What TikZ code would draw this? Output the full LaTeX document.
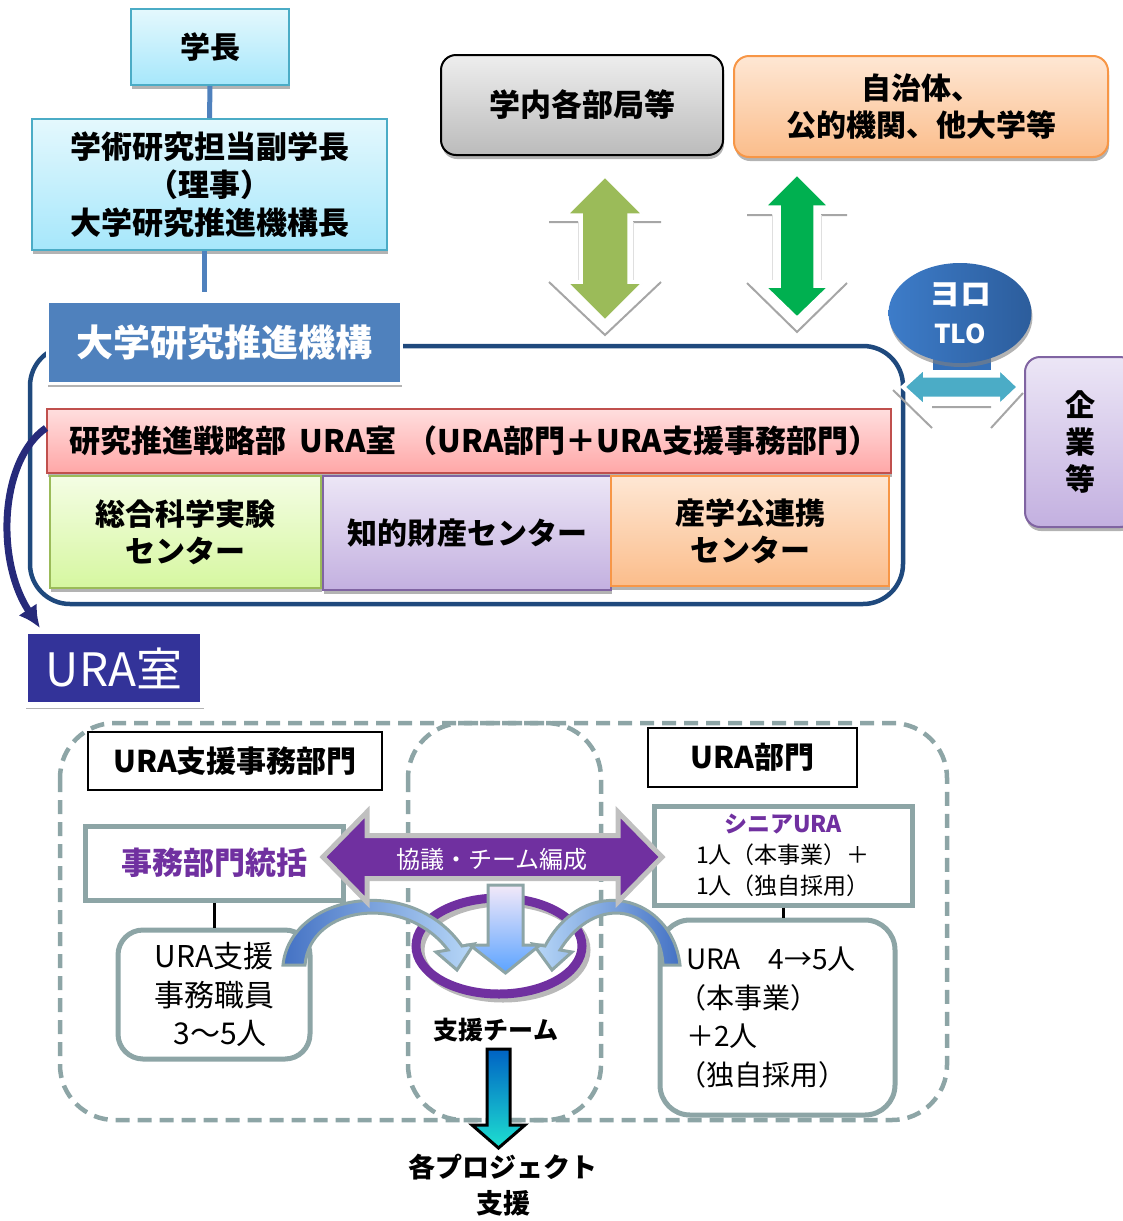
\documentclass[tikz,border=0pt]{standalone}
\usepackage{fontspec}
\setmainfont{Noto Sans CJK JP}
\usetikzlibrary{shadows,arrows.meta,shapes.geometric}

\definecolor{cyanline}{HTML}{4BACC6}
\definecolor{cyantop}{HTML}{E4F8FD}
\definecolor{cyanbot}{HTML}{A6E7FB}
\definecolor{orgblue}{HTML}{4F81BD}
\definecolor{framenavy}{HTML}{1F497D}
\definecolor{roomnavy}{HTML}{333399}
\definecolor{arcnavy}{HTML}{262A7A}
\definecolor{pinkline}{HTML}{C0504D}
\definecolor{pinktop}{HTML}{FFDEDE}
\definecolor{pinkbot}{HTML}{FFA7A7}
\definecolor{greenline}{HTML}{9BBB59}
\definecolor{greentop}{HTML}{F4FDE4}
\definecolor{greenbot}{HTML}{D6F7A0}
\definecolor{violetline}{HTML}{8064A2}
\definecolor{violettop}{HTML}{ECE6F6}
\definecolor{violetbot}{HTML}{C3B0E0}
\definecolor{orangeline}{HTML}{F79646}
\definecolor{orangetop}{HTML}{FEE7D4}
\definecolor{orangebot}{HTML}{FBBD8B}
\definecolor{graytop}{HTML}{EEEEEE}
\definecolor{graybot}{HTML}{BBBBBB}
\definecolor{leafgreen}{HTML}{9BBB59}
\definecolor{deepgreen}{HTML}{00B050}
\definecolor{tealarrow}{HTML}{4BACC6}
\definecolor{tloleft}{HTML}{3D7CC9}
\definecolor{tloright}{HTML}{2C5D9C}
\definecolor{tlomid}{HTML}{3570B8}
\definecolor{teamgray}{HTML}{8DA5A6}
\definecolor{talkpurple}{HTML}{7030A0}
\definecolor{talkedge}{HTML}{C0C0C0}
\definecolor{downtop}{HTML}{F3E9F9}
\definecolor{downbot}{HTML}{5BA3FF}
\definecolor{arcdark}{HTML}{4472C4}
\definecolor{arclight}{HTML}{B8D8F8}
\definecolor{projtop}{HTML}{0062C4}
\definecolor{projbot}{HTML}{1EE0D0}

\newcommand{\fsz}[2]{\fontsize{#1pt}{#2pt}\selectfont}

\begin{document}
\begin{tikzpicture}[x=1pt,y=-1pt]

	% page size of the reference
	\useasboundingbox (0,0) rectangle (1122,1221);

	% styles
	\tikzstyle{boxshadow}=[drop shadow={shadow xshift=1pt,shadow yshift=-4pt,fill=gray,opacity=0.6}];
	\tikzstyle{topbox}=[draw=cyanline,line width=2pt,top color=cyantop,bottom color=cyanbot,align=center,boxshadow];
	\tikzstyle{centrebox}=[line width=2pt,align=center,font={\fsz{30}{37}\bfseries},boxshadow];
	\tikzstyle{plainbox}=[draw=black,line width=2pt,fill=white,font={\fsz{30}{34}\bfseries}];
	\tikzstyle{teambox}=[draw=teamgray,line width=5pt,fill=white];
	\tikzstyle{uplink}=[orgblue,line width=5pt];
	\tikzstyle{arrowshadow}=[gray!70,line width=2pt];
	\tikzstyle{teamdash}=[teamgray,line width=4.5pt,dash pattern=on 14pt off 8pt,rounded corners=55pt];

	% head of the university
	\node[topbox,minimum width=158pt,minimum height=76pt,font={\fsz{30}{36}\bfseries}] (pres) at (210,47) {学長};
	\node[topbox,minimum width=355pt,minimum height=131pt,font={\fsz{31}{38}\bfseries}] (vp) at (209.5,184.5) {学術研究担当副学長\\（理事）\\大学研究推進機構長};
	\draw[style=uplink] (pres.south) -- (vp.north);

	% outer frame of the organisation
	\draw[framenavy,line width=4.5pt,rounded corners=40pt] (30,346) rectangle (903,604);
	\node[fill=orgblue,draw=white,line width=3pt,minimum width=354pt,minimum height=82pt,text=white,font={\fsz{37}{40}\bfseries},boxshadow] (org) at (224,342) {大学研究推進機構};
	\draw[style=uplink] ([xshift=-5pt]vp.south) -- ([xshift=-5pt,yshift=8pt]vp.south |- org.north);

	% strategy office and the three centres
	\node[draw=pinkline,line width=2pt,top color=pinktop,bottom color=pinkbot,minimum width=844pt,minimum height=64pt,inner xsep=22pt,text width=800pt,align=left,font={\fsz{31}{34}\bfseries},boxshadow] (strat) at (469,441) {研究推進戦略部\hspace{14pt}URA室\hspace{10pt}（URA部門＋URA支援事務部門）};
	\node[style=centrebox,draw=greenline,top color=greentop,bottom color=greenbot,minimum width=271pt,minimum height=112pt] (lab) at (185.5,532) {総合科学実験\\センター};
	\node[style=centrebox,draw=violetline,top color=violettop,bottom color=violetbot,minimum width=288pt,minimum height=114pt] (ip) at (467,533) {知的財産センター};
	\node[style=centrebox,draw=orangeline,top color=orangetop,bottom color=orangebot,minimum width=278pt,minimum height=110pt] (coop) at (750,531) {産学公連携\\センター};

	% URA office
	\node[fill=roomnavy,draw=white,line width=6pt,minimum width=178pt,minimum height=74pt,text=white,font={\fsz{46}{50}},boxshadow] (room) at (114,668) {\raisebox{-5pt}{URA室}};
	\draw[arcnavy,line width=7pt,-{Latex[length=22pt,width=22pt]}] ([yshift=13pt]strat.west) .. controls (0,460) and (-5,560) .. ([xshift=18pt,yshift=0pt]room.north west);

	% partners on top
	\node[draw=black,line width=2pt,rounded corners=15pt,top color=graytop,bottom color=graybot,minimum width=282pt,minimum height=100pt,font={\fsz{31}{36}\bfseries},boxshadow] (dept) at (582,105) {学内各部局等};
	\node[draw=orangeline,line width=2pt,rounded corners=15pt,top color=orangetop,bottom color=orangebot,minimum width=374pt,minimum height=101pt,align=center,font={\fsz{30}{37}\bfseries},boxshadow] (pub) at (921,106.5) {自治体、\\公的機関、他大学等};

	% two way arrows to the partners
	\draw[style=arrowshadow] (549,222) -- (578,222) (633,222) -- (661,222) (549,282) -- (605,335) -- (661,282);
	\draw[gray!25,line width=1pt] (578,222) -- (578,280) (633,222) -- (633,280);
	\draw[style=arrowshadow] (747,215) -- (772,215) (821,215) -- (847,215) (747,283) -- (797,332) -- (847,283);
	\draw[gray!25,line width=1pt] (772,215) -- (772,280) (821,215) -- (821,280);
	\filldraw[fill=leafgreen,draw=white,line width=1.5pt] (605,177) -- (642,214) -- (628,214) -- (628,283) -- (642,283) -- (605,320) -- (568,283) -- (582,283) -- (582,214) -- (568,214) -- cycle;
	\filldraw[fill=deepgreen,draw=white,line width=1.5pt] (797,175) -- (828,206) -- (814,206) -- (814,287) -- (828,287) -- (797,317) -- (766,287) -- (780,287) -- (780,206) -- (766,206) -- cycle;

	% TLO and companies
	\fill[tlomid] (933,330) rectangle (991,370);
	\node[ellipse,left color=tloleft,right color=tloright,minimum width=143pt,minimum height=100pt,inner sep=0pt,text=white,align=center,font={\fsz{26}{38}\bfseries},boxshadow] (tlo) at (960,313) {{\fsz{31}{38}ヨロ}\\TLO};
	\node[draw=violetline,line width=2pt,rounded corners=15pt,top color=violettop,bottom color=violetbot,minimum width=110pt,minimum height=170pt,align=center,font={\fsz{30}{37}\bfseries},boxshadow] (firm) at (1080,442) {企\\業\\等};
	\draw[style=arrowshadow] (893,390) -- (932,428) (932,407) -- (991,407) (991,428) -- (1023,393);
	\filldraw[fill=tealarrow,draw=white,line width=4pt] (903,387) -- (925,367) -- (925,375.5) -- (998,375.5) -- (998,367) -- (1019,387) -- (998,407) -- (998,398.5) -- (925,398.5) -- (925,407) -- cycle;

	% dashed groups of the URA office
	\draw[style=teamdash] (60,723) rectangle (947,1120);
	\draw[style=teamdash] (408,723) rectangle (601,1120);

	% support staff side
	\node[style=plainbox,minimum width=294pt,minimum height=58pt] (supp) at (235,761) {URA支援事務部門};
	\node[style=teambox,minimum width=258pt,minimum height=74pt,text=talkpurple,font={\fsz{31}{34}\bfseries}] (jimu) at (214,863) {事務部門統括};
	\node[style=teambox,rounded corners=25pt,minimum width=192pt,minimum height=129pt,align=center,font={\fsz{30}{38.5}}] (staff) at (214,994.5) {URA支援\\事務職員\\\hspace{12pt}3〜5人};
	\draw[black,line width=3pt] (jimu.south) -- (staff.north);

	% URA side
	\node[style=plainbox,minimum width=209pt,minimum height=59pt] (ura) at (752.5,757.5) {URA部門};
	\node[style=teambox,minimum width=258pt,minimum height=99pt,align=center,font={\fsz{23}{31}}] (senior) at (783,855.5) {{\bfseries\color{talkpurple}シニアURA}\\1人（本事業）＋\\1人（独自採用）};
	\node[style=teambox,rounded corners=30pt,minimum width=235pt,minimum height=195pt,inner xsep=26pt,text width=183pt,align=left,font={\fsz{28}{38.5}}] (members) at (777.5,1017.5) {URA　4→5人\\\hspace{-8pt}（本事業）\\＋2人\\\hspace{-8pt}（独自採用）};
	\draw[black,line width=3pt] (senior.south) -- (senior.south |- members.north);

	% support team in the middle
	\draw[gray!55,line width=9pt] (503,950) ellipse [x radius=83pt,y radius=48pt];
	\draw[talkpurple,line width=9pt] (499,946) ellipse [x radius=83pt,y radius=48pt];
	\path[draw=teamgray,line width=3pt,left color=arcdark,right color=arclight] (283,965) .. controls (290,895) and (410,872) .. (462,946) -- (474,944) -- (457,970) -- (436,952) -- (448,950) .. controls (405,893) and (310,905) .. (305,965) -- cycle;
	\path[draw=teamgray,line width=3pt,left color=arclight,right color=arcdark] (680,965) .. controls (672,895) and (585,872) .. (545,946) -- (533,944) -- (552,970) -- (572,952) -- (560,950) .. controls (595,893) and (660,905) .. (663,965) -- cycle;
	\path[draw=teamgray,line width=3pt,top color=downtop,bottom color=downbot] (488,885) -- (523,885) -- (523,945) -- (540,945) -- (505.5,973) -- (470,945) -- (488,945) -- cycle;
	\filldraw[fill=talkpurple,draw=talkedge,line width=5pt] (323,857) -- (367,812) -- (367,835.5) -- (618,835.5) -- (618,812) -- (662,857) -- (618,902) -- (618,878.5) -- (367,878.5) -- (367,902) -- cycle;
	\node[text=white,font={\fsz{24}{28}}] (talk) at (492,859) {協議・チーム編成};
	\node[font={\fsz{25}{28}\bfseries}] (team) at (496,1030) {支援チーム};

	% support to each project
	\path[draw=black,line width=3pt,top color=projtop,bottom color=projbot] (487,1049) -- (510,1049) -- (510,1125) -- (525,1125) -- (498.5,1148) -- (472,1125) -- (487,1125) -- cycle;
	\node[align=center,font={\fsz{27}{36}\bfseries}] (proj) at (503,1185) {各プロジェクト\\支援};

\end{tikzpicture}
\end{document}
